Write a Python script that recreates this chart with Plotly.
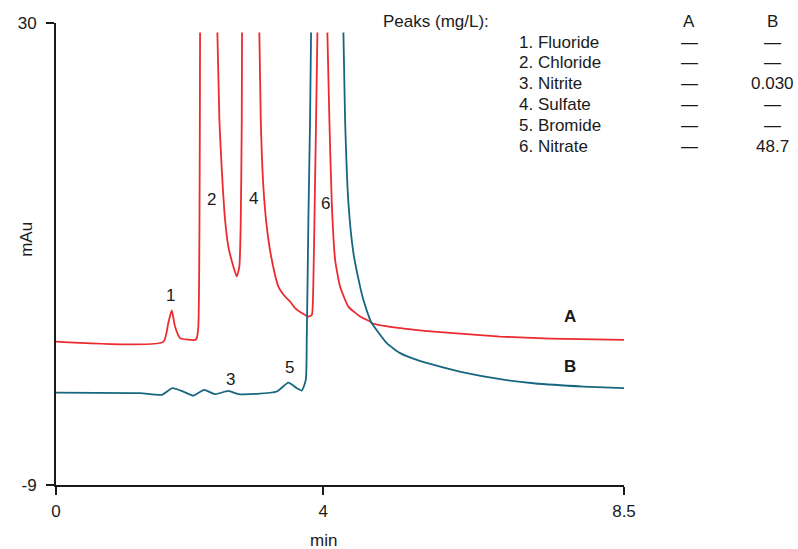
import plotly.graph_objects as go

# Retention time (min) and detector response (mAU); None marks off-scale tops
time_a = [0.0, 1.606, 1.681, 1.732, 1.781, 1.856, 2.081, 2.106, 2.130, 2.156, None,
          2.415, 2.445, 2.481, 2.530, 2.579, 2.654, 2.705, 2.744, 2.765, 2.780, 2.784, None,
          3.043, 3.064, 3.103, 3.154, 3.229, 3.328, 3.428, 3.503, 3.578, 3.678, 3.777,
          3.828, 3.850, 3.872, 3.892, 3.912, None,
          4.061, 4.091, 4.127, 4.177, 4.251, 4.376, 4.551, 4.701, 4.726, 5.150, 5.648,
          6.148, 6.647, 7.395, 8.5]
mau_a = [3.11, 3.08, 4.69, 5.73, 4.38, 3.40, 3.25, 3.40, 4.38, 29.2, None,
         29.2, 21.83, 17.61, 13.39, 11.13, 9.44, 8.60, 9.44, 13.39, 21.83, 29.2, None,
         29.2, 21.83, 16.20, 12.82, 10.01, 7.75, 6.91, 6.49, 5.93, 5.51, 5.22,
         5.36, 7.75, 15.0, 21.83, 29.2, None,
         29.2, 21.83, 14.80, 10.01, 7.75, 6.06, 5.22, 4.80, 4.66, 4.24, 3.95,
         3.73, 3.53, 3.36, 3.25]

time_b = [0.0, 1.257, 1.582, 1.741, 1.906, 2.055, 2.216, 2.380, 2.579, 2.729, 3.004,
          3.304, 3.478, 3.603, 3.678, 3.738, 3.753, 3.777, 3.802, 3.817, None,
          4.301, 4.326, 4.376, 4.451, 4.551, 4.600, 4.701, 4.726, 4.951, 5.150, 5.400,
          5.749, 6.148, 6.647, 7.145, 7.894, 8.5]
mau_b = [-1.20, -1.25, -1.39, -0.83, -1.11, -1.45, -0.97, -1.33, -1.06, -1.33, -1.31,
         -1.11, -0.36, -0.83, -1.03, -0.13, 3.53, 13.39, 21.83, 29.2, None,
         29.2, 21.83, 14.80, 10.57, 7.75, 6.63, 4.94, 4.66, 2.97, 2.13, 1.56,
         1.00, 0.44, -0.07, -0.41, -0.69, -0.83]

peak_numbers = ["1", "2", "3", "4", "5", "6"]
peak_names = ["Fluoride", "Chloride", "Nitrite", "Sulfate", "Bromide", "Nitrate"]
conc_a = ["—", "—", "—", "—", "—", "—"]
conc_b = ["—", "—", "0.030", "—", "—", "48.7"]

x_ticks = [0, 4, 8.5]
x_ticktext = ["0", "4", "8.5"]
y_ticks = [-9, 30]
y_ticktext = ["-9", "30"]

RED = "#ec2a30"
TEAL = "#17667f"
INK = "#1a1a1a"
FONT = "Liberation Sans, Arial, Helvetica, sans-serif"

fig = go.Figure()
fig.add_trace(go.Scatter(x=time_a, y=mau_a, mode="lines", name="A",
                         line=dict(color=RED, width=1.8, shape="spline", smoothing=0.5),
                         connectgaps=False))
fig.add_trace(go.Scatter(x=time_b, y=mau_b, mode="lines", name="B",
                         line=dict(color=TEAL, width=1.8, shape="spline", smoothing=0.5),
                         connectgaps=False))

lfont = dict(size=17, color=INK, family=FONT)

# Peak number labels beside each peak (time, mAU)
label_anchor = {"1": (1.72, 6.97), "2": (2.32, 15.08), "3": (2.605, -0.13),
                "4": (2.95, 15.16), "5": (3.49, 0.89), "6": (4.04, 14.8)}
for n in peak_numbers:
    lx, ly = label_anchor[n]
    fig.add_annotation(x=lx, y=ly, text=n, showarrow=False, font=lfont)

# Trace identifiers
fig.add_annotation(x=7.695, y=5.25, text="<b>A</b>", showarrow=False, font=lfont)
fig.add_annotation(x=7.695, y=1.0, text="<b>B</b>", showarrow=False, font=lfont)

# Plot-area geometry in pixels
PLOT_L, PLOT_R, PLOT_T, PLOT_B = 56, 624, 23.3, 485
W, H = 798, 549


def px(xp):
    return (xp - PLOT_L) / (PLOT_R - PLOT_L)


def py(yp):
    return (PLOT_B - yp) / (PLOT_B - PLOT_T)


# Concentration table, upper right
fig.add_annotation(xref="paper", yref="paper", x=px(381), y=py(21.5), text="Peaks (mg/L):",
                   showarrow=False, xanchor="left", yanchor="middle", font=lfont)
fig.add_annotation(xref="paper", yref="paper", x=px(689), y=py(21.5), text="A",
                   showarrow=False, xanchor="center", yanchor="middle", font=lfont)
fig.add_annotation(xref="paper", yref="paper", x=px(772), y=py(21.5), text="B",
                   showarrow=False, xanchor="center", yanchor="middle", font=lfont)
for i, (num, name, a, b) in enumerate(zip(peak_numbers, peak_names, conc_a, conc_b)):
    yrow = py(42.3 + i * 20.8)
    fig.add_annotation(xref="paper", yref="paper", x=px(517), y=yrow, text=f"{num}. {name}",
                       showarrow=False, xanchor="left", yanchor="middle", font=lfont)
    fig.add_annotation(xref="paper", yref="paper", x=px(689), y=yrow, text=a,
                       showarrow=False, xanchor="center", yanchor="middle", font=lfont)
    fig.add_annotation(xref="paper", yref="paper", x=px(772), y=yrow, text=b,
                       showarrow=False, xanchor="center", yanchor="middle", font=lfont)

# Axis titles
fig.add_annotation(xref="paper", yref="paper", x=px(323), y=py(540), text="min",
                   showarrow=False, xanchor="center", yanchor="middle", font=lfont)
fig.add_annotation(xref="paper", yref="paper", x=px(27), y=py(240), text="mAu",
                   textangle=-90, showarrow=False, xanchor="center", yanchor="middle",
                   font=lfont)

axis_style = dict(showgrid=False, zeroline=False, showline=True, linecolor=INK, linewidth=2,
                  ticks="outside", ticklen=8, tickwidth=1.5, tickcolor=INK,
                  tickfont=dict(size=17, family=FONT, color=INK), automargin=False)

fig.update_layout(
    width=W, height=H,
    margin=dict(l=PLOT_L, r=W - PLOT_R, t=PLOT_T, b=H - PLOT_B, pad=0),
    paper_bgcolor="white", plot_bgcolor="white",
    showlegend=False,
    font=dict(family=FONT, size=17, color=INK),
    xaxis=dict(range=[0, 8.5], tickvals=x_ticks, ticktext=x_ticktext,
               ticklabelstandoff=2, **axis_style),
    yaxis=dict(range=[-9, 30], tickvals=y_ticks, ticktext=y_ticktext,
               ticklabelstandoff=6, **axis_style),
)

fig.write_html("out.html")
